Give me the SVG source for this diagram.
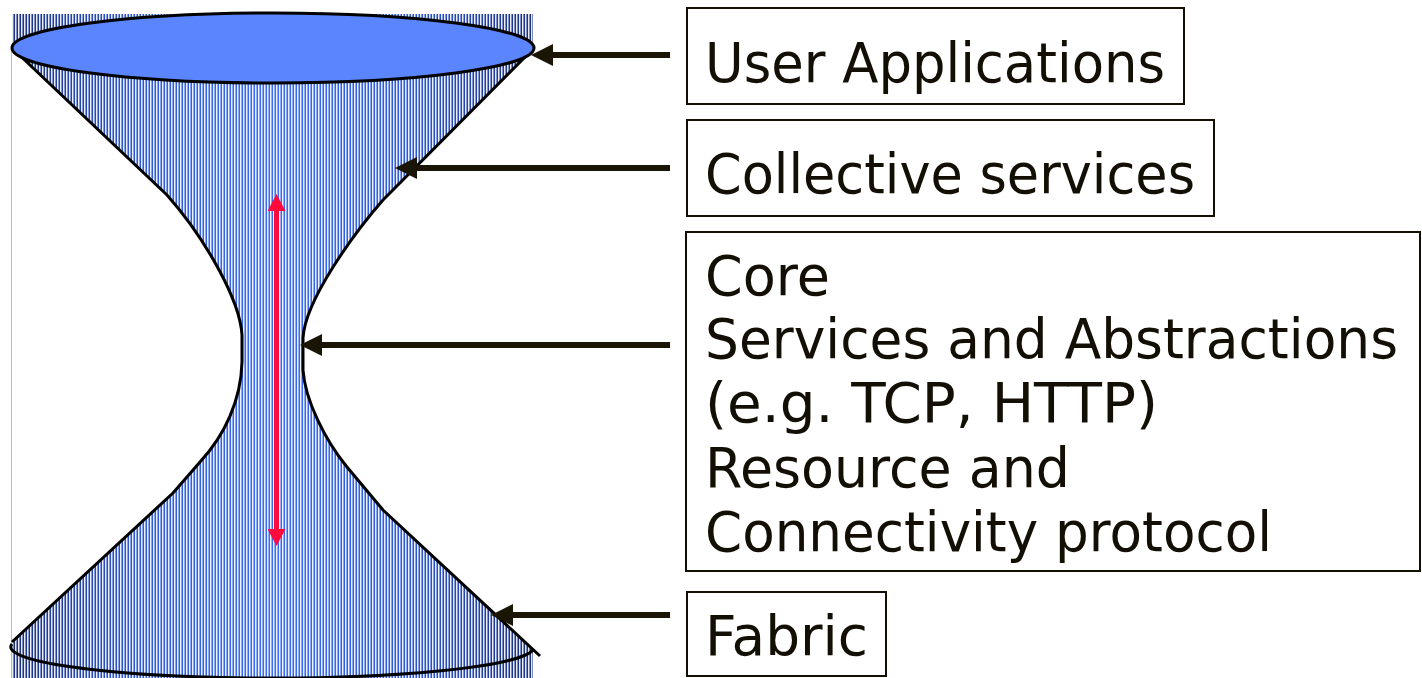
<svg xmlns="http://www.w3.org/2000/svg" width="1422" height="678" viewBox="0 0 1422 678">
<style>
.lbl{font-family:"DejaVu Sans","Verdana",sans-serif;font-size:55px;fill:#140f05}
.box{fill:#fff;stroke:#140f05;stroke-width:2}
.outline{fill:none;stroke:#000;stroke-width:3;stroke-linejoin:round}
.conn{stroke:#1a1505;stroke-width:6;fill:none}
.red{stroke:#ff0a3c;stroke-width:5;fill:none}
</style>
<defs>
<linearGradient id="dark" x1="12" y1="0" x2="533" y2="0" gradientUnits="userSpaceOnUse">
<stop offset="0" stop-color="#1a3080"/>
<stop offset="0.25" stop-color="#2d5ad8"/>
<stop offset="0.5" stop-color="#3a6cf5"/>
<stop offset="0.75" stop-color="#2d5ad8"/>
<stop offset="1" stop-color="#1a3080"/>
</linearGradient>
<pattern id="stripes" patternUnits="userSpaceOnUse" x="0" y="0" width="3" height="10">
<rect x="0" y="0" width="1" height="10" fill="#fff" fill-opacity="0.9"/>
<rect x="1" y="0" width="1" height="10" fill="#fff" fill-opacity="0.45"/>
</pattern>
<marker id="blk" markerUnits="userSpaceOnUse" viewBox="0 0 22 22" markerWidth="22" markerHeight="22" refX="2" refY="11" orient="auto">
<path d="M0,0 L22,11 L0,22 Z" fill="#1a1505"/>
</marker>
<marker id="redh" markerUnits="userSpaceOnUse" viewBox="0 0 18 18" markerWidth="18" markerHeight="18" refX="1" refY="9" orient="auto-start-reverse">
<path d="M0,0 L17,9 L0,18 Z" fill="#ff0a3c"/>
</marker>
</defs>
<rect width="1422" height="678" fill="#fff"/>

<g id="hourglass">
<rect x="12" y="14" width="521" height="664" fill="url(#dark)"/>
<rect x="12" y="14" width="521" height="664" fill="url(#stripes)"/>
<path d="M12,48 L167,195 C205,238 240,300 242,335 L242,362 C241,400 225,435 200,462 L173,493 L12,642 L0,642 L0,48 Z" fill="#fff"/>
<path d="M534,48 L383,200 C355,232 305,300 303,338 L303,370 C305,400 325,440 347,467 L383,510 L540,656 L560,656 L560,48 Z" fill="#fff"/>
<line x1="11.5" y1="48" x2="11.5" y2="678" stroke="#bbbbbb" stroke-width="1"/>
<path class="outline" d="M12,48 L167,195 C205,238 240,300 242,335 L242,362 C241,400 225,435 200,462 L173,493 L12,642"/>
<path class="outline" d="M534,48 L383,200 C355,232 305,300 303,338 L303,370 C305,400 325,440 347,467 L383,510 L540,656"/>
<path class="outline" d="M12,644 A261,31 0 0 0 533,650"/>
<ellipse cx="273" cy="48" rx="261" ry="35" fill="#5b85fd" stroke="#000" stroke-width="3"/>
</g>

<g id="connectors">
<line class="conn" x1="670" y1="55" x2="551" y2="55" marker-end="url(#blk)"/>
<line class="conn" x1="670" y1="168" x2="415" y2="168" marker-end="url(#blk)"/>
<line class="conn" x1="670" y1="345" x2="320" y2="345" marker-end="url(#blk)"/>
<line class="conn" x1="670" y1="615" x2="511" y2="615" marker-end="url(#blk)"/>
<line class="red" x1="276.5" y1="210" x2="276.5" y2="530" marker-start="url(#redh)" marker-end="url(#redh)"/>
</g>

<g id="user-applications">
<rect class="box" x="687" y="8" width="497" height="96"/>
<text class="lbl" x="705" y="82" textLength="460" lengthAdjust="spacingAndGlyphs">User Applications</text>
</g>
<g id="collective-services">
<rect class="box" x="687" y="120" width="527" height="96"/>
<text class="lbl" x="705" y="193" textLength="490" lengthAdjust="spacingAndGlyphs">Collective services</text>
</g>
<g id="core">
<rect class="box" x="686" y="232" width="734" height="339"/>
<text class="lbl" x="705" y="295" textLength="125" lengthAdjust="spacingAndGlyphs">Core</text>
<text class="lbl" x="705" y="358" textLength="693" lengthAdjust="spacingAndGlyphs">Services and Abstractions</text>
<text class="lbl" x="705" y="422" textLength="453" lengthAdjust="spacingAndGlyphs">(e.g. TCP, HTTP)</text>
<text class="lbl" x="705" y="487" textLength="365" lengthAdjust="spacingAndGlyphs">Resource and</text>
<text class="lbl" x="705" y="551" textLength="567" lengthAdjust="spacingAndGlyphs">Connectivity protocol</text>
</g>
<g id="fabric">
<rect class="box" x="687" y="592" width="199" height="84"/>
<text class="lbl" x="705" y="655" textLength="163" lengthAdjust="spacingAndGlyphs">Fabric</text>
</g>
</svg>
